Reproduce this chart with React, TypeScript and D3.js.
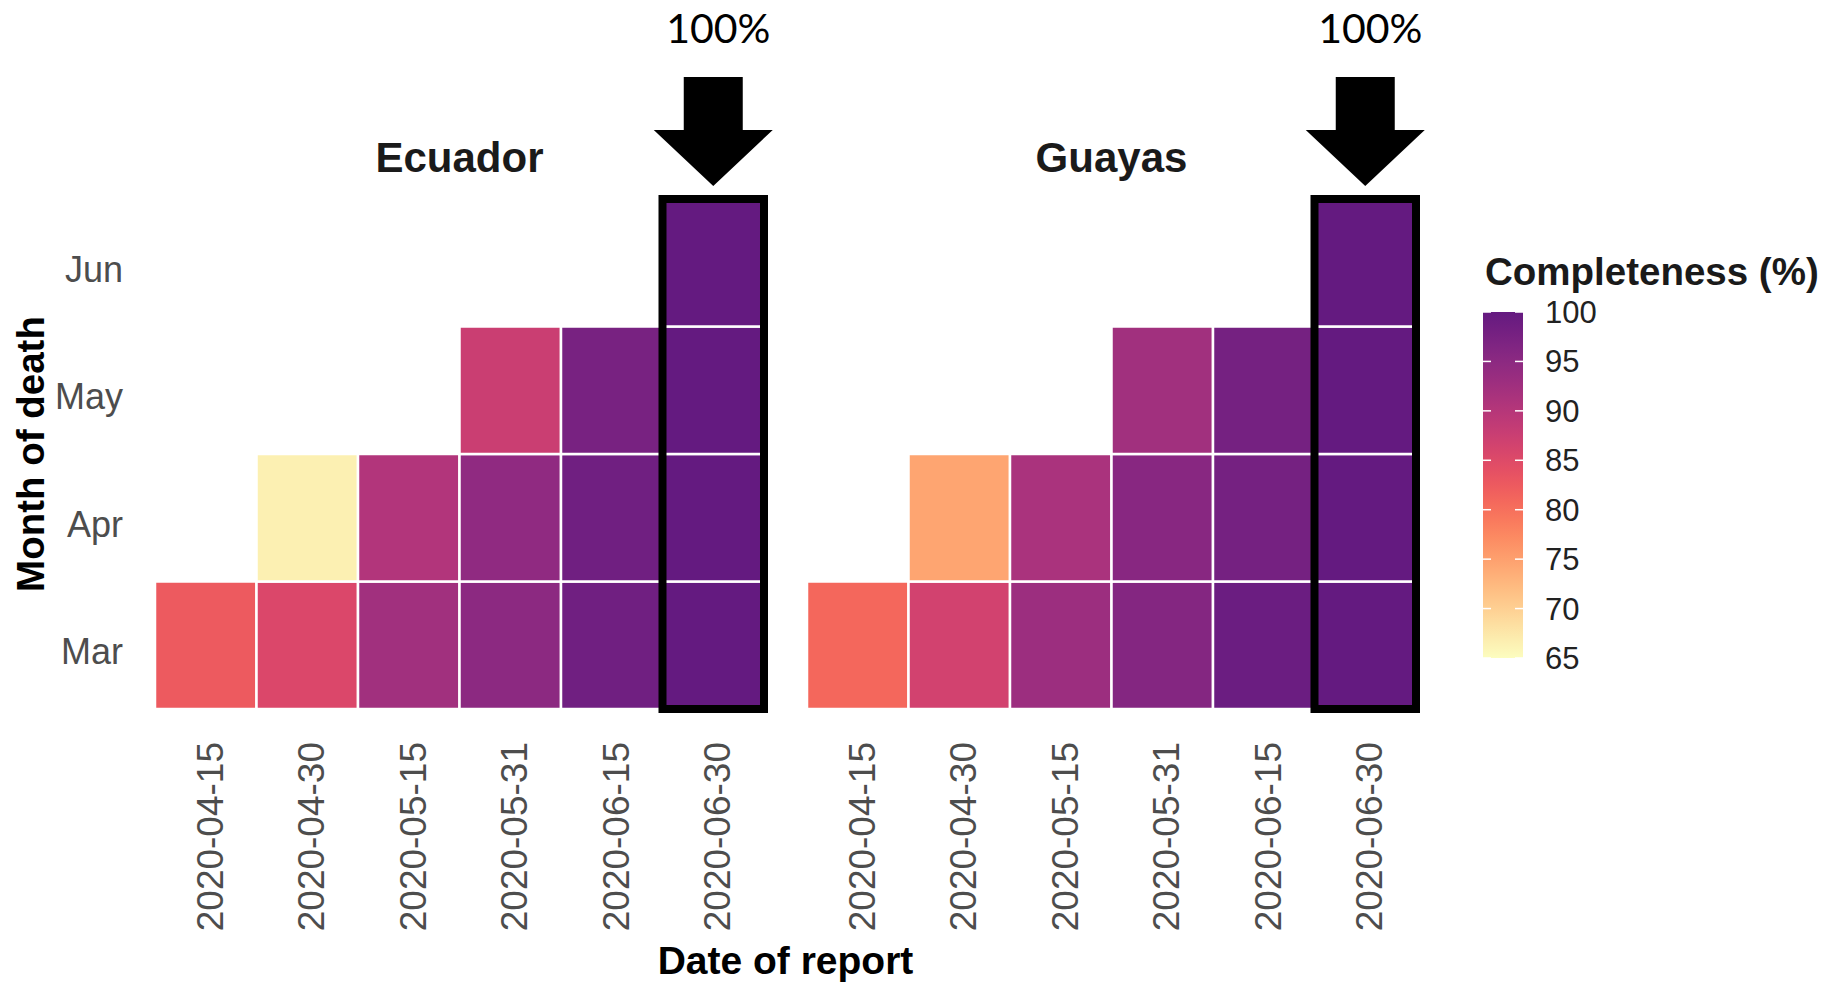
import React, { useRef, useEffect } from "react";
import * as d3 from "d3";

// data
const months = ["Mar", "Apr", "May", "Jun"];
const reportDates = ["2020-04-15", "2020-04-30", "2020-05-15", "2020-05-31", "2020-06-15", "2020-06-30"];
const regions = ["Ecuador", "Guayas"];

// completeness (%) per month of death, one value per report date (null = no data)
const ecuadorMar = [82.5, 85.5, 92.5, 95, 98.5, 100];
const ecuadorApr = [null, 66.5, 90.5, 94.5, 98.5, 100];
const ecuadorMay = [null, null, null, 87.5, 97.5, 100];
const ecuadorJun = [null, null, null, null, null, 100];

const guayasMar = [81, 86.5, 93, 96, 99, 100];
const guayasApr = [null, 74.5, 91.5, 95.5, 98, 100];
const guayasMay = [null, null, null, 92.5, 98, 100];
const guayasJun = [null, null, null, null, null, 100];

const legendTicks = [65, 70, 75, 80, 85, 90, 95, 100];
const highlightLabel = "100%";

function HeatmapPanels() {
    const ref = useRef(null);

    useEffect(() => {
        draw();
    }, []);

    const draw = () => {
        const svg = d3.select(ref.current);
        svg.selectAll("*").remove();

        const tableOf = {
            Ecuador: [ecuadorMar, ecuadorApr, ecuadorMay, ecuadorJun],
            Guayas: [guayasMar, guayasApr, guayasMay, guayasJun],
        };

        // layout
        const panelLeft = [155, 807];
        const panelWidth = 609;
        const gridTop = 199;
        const gridBottom = 709;
        const axisGrey = "#4d4d4d";

        const color = d3
            .scaleSequential((t) => d3.interpolateMagma(1 - 0.7 * t))
            .domain([65, 100]);

        const y = d3.scaleBand().domain(months).range([gridBottom, gridTop]).padding(0);

        regions.forEach((region, p) => {
            const x = d3
                .scaleBand()
                .domain(reportDates)
                .range([panelLeft[p], panelLeft[p] + panelWidth])
                .padding(0);

            const g = svg.append("g");

            // cells
            const rows = tableOf[region];
            const cells = [];
            rows.forEach((vals, i) => {
                vals.forEach((v, j) => {
                    if (v !== null) cells.push({ month: months[i], date: reportDates[j], value: v });
                });
            });

            g.selectAll("rect.cell")
                .data(cells)
                .enter()
                .append("rect")
                .attr("class", "cell")
                .attr("x", (d) => x(d.date))
                .attr("y", (d) => y(d.month))
                .attr("width", x.bandwidth())
                .attr("height", y.bandwidth())
                .attr("fill", (d) => color(d.value))
                .attr("stroke", "white")
                .attr("stroke-width", 2.5);

            // panel title
            g.append("text")
                .text(region)
                .attr("x", panelLeft[p] + panelWidth / 2)
                .attr("y", 172)
                .attr("text-anchor", "middle")
                .attr("font-family", "Liberation Sans, Arial, sans-serif")
                .attr("font-weight", "bold")
                .attr("font-size", 42)
                .attr("fill", "#1a1a1a");

            // x tick labels (rotated)
            g.selectAll("text.xtick")
                .data(reportDates)
                .enter()
                .append("text")
                .attr("class", "xtick")
                .text((d) => d)
                .attr("transform", (d) => "translate(" + (x(d) + x.bandwidth() / 2 + 17) + ",742) rotate(-90)")
                .attr("text-anchor", "end")
                .attr("font-family", "Liberation Sans, Arial, sans-serif")
                .attr("font-size", 37)
                .attr("fill", axisGrey);

            // highlight box around last report date
            const last = reportDates[reportDates.length - 1];
            g.append("rect")
                .attr("x", x(last))
                .attr("y", gridTop)
                .attr("width", x.bandwidth())
                .attr("height", gridBottom - gridTop)
                .attr("fill", "none")
                .attr("stroke", "black")
                .attr("stroke-width", 8);

            // arrow
            const cx = x(last) + x.bandwidth() / 2;
            const arrow = d3.path();
            arrow.moveTo(cx - 29.5, 77);
            arrow.lineTo(cx + 29.5, 77);
            arrow.lineTo(cx + 29.5, 130);
            arrow.lineTo(cx + 59.5, 130);
            arrow.lineTo(cx, 186);
            arrow.lineTo(cx - 59.5, 130);
            arrow.lineTo(cx - 29.5, 130);
            arrow.closePath();
            g.append("path").attr("d", arrow.toString()).attr("fill", "black");

            g.append("text")
                .text(highlightLabel)
                .attr("x", cx + 5)
                .attr("y", 43)
                .attr("text-anchor", "middle")
                .attr("font-family", "Lato, Open Sans, sans-serif")
                .attr("font-size", 41)
                .attr("fill", "black");
        });

        // y tick labels
        svg.selectAll("text.ytick")
            .data(months)
            .enter()
            .append("text")
            .attr("class", "ytick")
            .text((d) => d)
            .attr("x", 123)
            .attr("y", (d) => y(d) + y.bandwidth() / 2 + 19)
            .attr("text-anchor", "end")
            .attr("font-family", "Liberation Sans, Arial, sans-serif")
            .attr("font-size", 36)
            .attr("fill", axisGrey);

        // axis titles
        svg.append("text")
            .text("Month of death")
            .attr("transform", "translate(44," + (gridTop + gridBottom) / 2 + ") rotate(-90)")
            .attr("text-anchor", "middle")
            .attr("font-family", "Liberation Sans, Arial, sans-serif")
            .attr("font-weight", "bold")
            .attr("font-size", 38.5)
            .attr("fill", "black");

        svg.append("text")
            .text("Date of report")
            .attr("x", (panelLeft[0] + panelLeft[1] + panelWidth) / 2)
            .attr("y", 974)
            .attr("text-anchor", "middle")
            .attr("font-family", "Liberation Sans, Arial, sans-serif")
            .attr("font-weight", "bold")
            .attr("font-size", 39)
            .attr("fill", "black");

        // legend
        const legX = 1483;
        const legW = 40;
        const ly = d3.scaleLinear().domain([65, 100]).range([658, 312]);

        const grad = svg
            .append("defs")
            .append("linearGradient")
            .attr("id", "legend-grad")
            .attr("x1", 0)
            .attr("x2", 0)
            .attr("y1", 1)
            .attr("y2", 0);
        d3.range(0, 1.0001, 0.05).forEach((t) => {
            grad.append("stop")
                .attr("offset", t)
                .attr("stop-color", color(65 + t * 35));
        });

        svg.append("rect")
            .attr("x", legX)
            .attr("y", ly(100))
            .attr("width", legW)
            .attr("height", ly(65) - ly(100))
            .attr("fill", "url(#legend-grad)");

        legendTicks.forEach((v) => {
            svg.append("line")
                .attr("x1", legX).attr("x2", legX + 8)
                .attr("y1", ly(v)).attr("y2", ly(v))
                .attr("stroke", "white").attr("stroke-width", 1.5);
            svg.append("line")
                .attr("x1", legX + legW - 8).attr("x2", legX + legW)
                .attr("y1", ly(v)).attr("y2", ly(v))
                .attr("stroke", "white").attr("stroke-width", 1.5);
        });

        svg.selectAll("text.legtick")
            .data(legendTicks)
            .enter()
            .append("text")
            .attr("class", "legtick")
            .text((d) => d)
            .attr("x", 1545)
            .attr("y", (d) => ly(d) + 11)
            .attr("font-family", "Liberation Sans, Arial, sans-serif")
            .attr("font-size", 31)
            .attr("fill", "#222");

        svg.append("text")
            .text("Completeness (%)")
            .attr("x", 1485)
            .attr("y", 285)
            .attr("font-family", "Liberation Sans, Arial, sans-serif")
            .attr("font-weight", "bold")
            .attr("font-size", 38.5)
            .attr("fill", "#1a1a1a");
    };

    return (
        <svg
            ref={ref}
            width={1833}
            height={983}
            style={{ position: "absolute", left: 0, top: 0, background: "white" }}
        ></svg>
    );
}

export default function App() {
    return <HeatmapPanels />;
}
